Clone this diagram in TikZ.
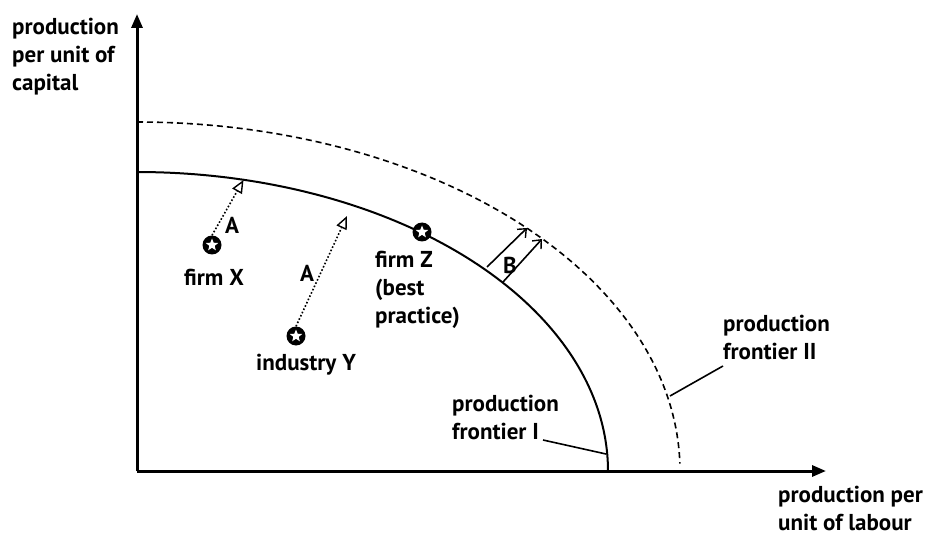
\documentclass[tikz,border=0pt]{standalone}
\usepackage{fontspec}
\setmainfont{PT Sans}
\usetikzlibrary{arrows.meta,shapes.geometric}
\tikzset{
  lbl/.style={font=\bfseries\fontsize{23}{28}\selectfont, inner sep=0pt, align=left},
  axis/.style={line width=3pt, -{Triangle[length=14pt,width=11pt]}},
  frontier/.style={line width=2pt},
  frontiertwo/.style={line width=1.6pt, dash pattern=on 6pt off 4pt},
  leader/.style={line width=1.6pt},
  moveA/.style={line width=1.6pt, dotted, -{Triangle[open,length=13pt,width=11pt,line width=1.4pt]}},
  moveB/.style={line width=1.6pt, -{Straight Barb[length=7pt,width=12pt,line width=1.4pt]}},
  dotc/.style={circle, fill=black, minimum size=19pt, inner sep=0pt},
  startip/.style={star, star points=5, star point ratio=2.3, fill=white, minimum size=13pt, inner sep=0pt}
}
\begin{document}
\begin{tikzpicture}[x=1pt,y=-1pt]
\useasboundingbox (0,0) rectangle (931,537);
% axes
\coordinate (O) at (137,471);
\coordinate (ytop) at (137,14);
\coordinate (xend) at (826,471);
\draw[axis] (O) -- (ytop);
\draw[axis] (O) -- (xend);
% frontiers
\draw[frontier] plot[domain=90:0, samples=90] ({137+471*cos(\x)}, {471-299*sin(\x)});
\draw[frontiertwo] plot[domain=90:1.2, samples=90] ({137+543*cos(\x)}, {471-349*sin(\x)});
% points
\node[dotc] (X) at (212,245) {};
\node[startip] at (X) {};
\node[dotc] (Y) at (296,336) {};
\node[startip] at (Y) {};
\node[dotc] (Z) at (422,232) {};
\node[startip] at (Z) {};
% movement arrows
\coordinate (xa) at (243.5,180);
\coordinate (ya) at (347,216);
\draw[moveA] (X.north) -- (xa);
\draw[moveA] (Y.north) -- (ya);
\coordinate (b1s) at (487,267);
\coordinate (b1e) at (527,228);
\coordinate (b2s) at (503,282);
\coordinate (b2e) at (542,239);
\draw[moveB] (b1s) -- (b1e);
\draw[moveB] (b2s) -- (b2e);
% labels
\node[lbl, anchor=west] (ylab) at (12,57) {production\\per unit of\\capital};
\node[lbl, anchor=west] (xlab) at (778,508) {production per\\unit of labour};
\node[lbl] (lX) at (214,277) {firm X};
\node[lbl] (lY) at (306,365) {industry Y};
\node[lbl, anchor=west] (lZ) at (375,290) {firm Z\\(best\\practice)};
\node[lbl] (lA1) at (232,225) {A};
\node[lbl] (lA2) at (307,273) {A};
\node[lbl] (lB) at (510,265) {B};
\node[lbl, anchor=west] (fI) at (452,417) {production\\frontier I};
\node[lbl, anchor=west] (fII) at (723,337) {production\\frontier II};
\coordinate (fIs) at (543,440);
\coordinate (fIend) at (606,454);
\coordinate (fIIs) at (723,366);
\coordinate (fIIend) at (670,396);
\draw[leader] (fIs) -- (fIend);
\draw[leader] (fIIs) -- (fIIend);
\end{tikzpicture}
\end{document}
